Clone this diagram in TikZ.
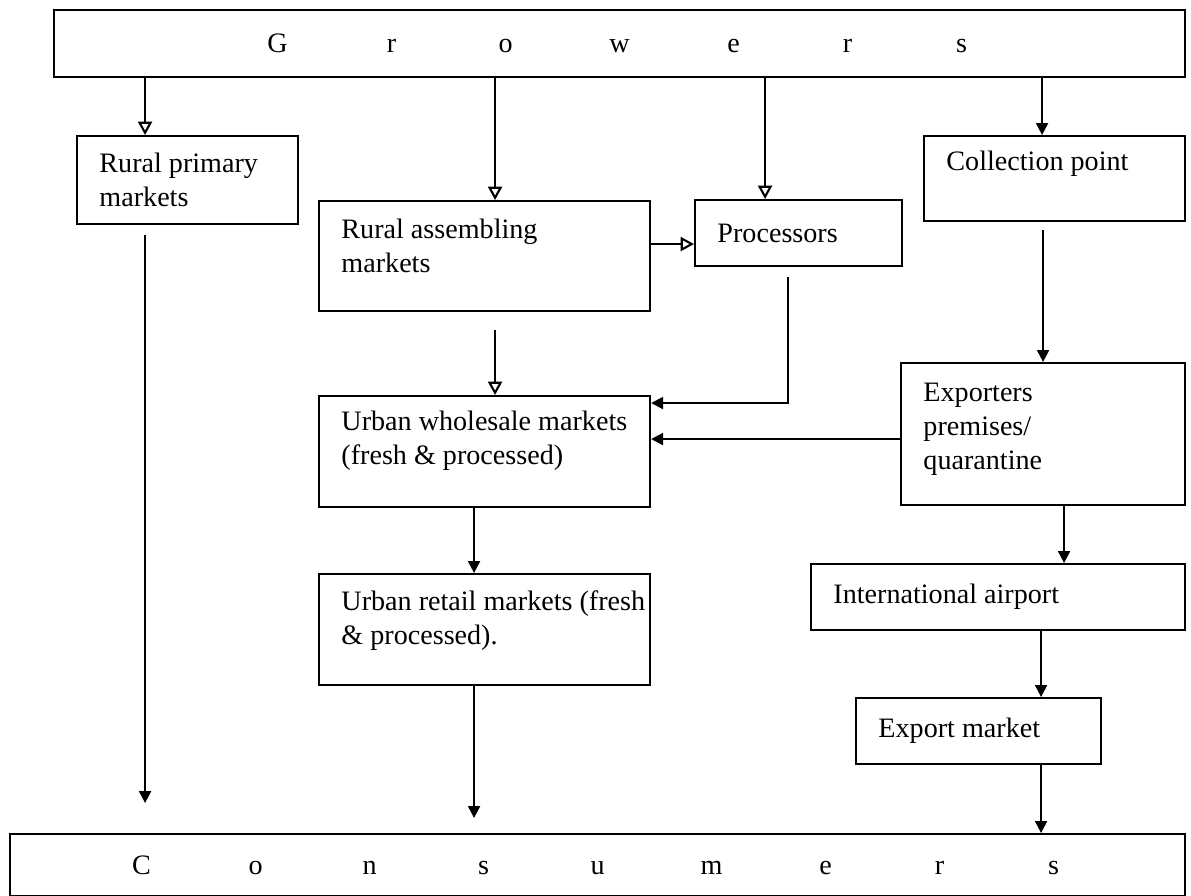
\documentclass[tikz,border=0pt]{standalone}
\usepackage{fontspec}
\setmainfont{Liberation Serif}
\usetikzlibrary{arrows.meta,calc}

\tikzset{
  box/.style 2 args={draw, line width=0.9pt, rectangle, inner sep=0pt,
    anchor=north west, minimum width=#1, minimum height=#2},
  lbl/.style={anchor=west, align=left, inner sep=0pt, xshift=0.345cm},
  oarr/.style={line width=0.9pt, -{Triangle[open,width=0.21cm,length=0.2cm]}},
  farr/.style={line width=0.9pt, -{Triangle[width=0.18cm,length=0.18cm]}},
}
% one spaced letter of the wide titles
\newcommand{\wide}[1]{\makebox[1.71cm]{#1}}

\begin{document}
\begin{tikzpicture}[x=0.015cm,y=-0.015cm,font=\fontsize{12}{14.5}\selectfont]
\useasboundingbox (0,0) rectangle (1191,896);

% boxes
\node[box={16.965cm}{1.005cm}] (growers) at (53,9)
  {\wide{G}\wide{r}\wide{o}\wide{w}\wide{e}\wide{r}\wide{s}};
\node[box={3.315cm}{1.32cm},
  label={[lbl]west:{Rural primary\\markets}}] (rpm) at (76,135) {};
\node[box={4.965cm}{1.65cm},
  label={[lbl,yshift=0.15cm]west:{Rural assembling\\markets}}] (ram) at (318,200) {};
\node[box={3.105cm}{0.99cm},
  label={[lbl]west:{Processors}}] (proc) at (694,199) {};
\node[box={3.915cm}{1.275cm},
  label={[lbl,yshift=0.225cm]west:{Collection point}}] (coll) at (923,135) {};
\node[box={4.965cm}{1.665cm},
  label={[lbl,yshift=0.16cm]west:{Urban wholesale markets\\(fresh \& processed)}}] (uwm) at (318,395) {};
\node[box={4.26cm}{2.13cm},
  label={[lbl,yshift=0.075cm]west:{Exporters\\premises/\\quarantine}}] (expq) at (900,362) {};
\node[box={4.965cm}{1.665cm},
  label={[lbl,yshift=0.135cm]west:{Urban retail markets (fresh\\\& processed).}}] (urm) at (318,573) {};
\node[box={5.61cm}{0.99cm},
  label={[lbl]west:{International airport}}] (air) at (810,563) {};
\node[box={3.675cm}{0.99cm},
  label={[lbl]west:{Export market}}] (emk) at (855,697) {};
\node[box={17.625cm}{0.93cm}] (cons) at (9,833)
  {\wide{C}\wide{o}\wide{n}\wide{s}\wide{u}\wide{m}\wide{e}\wide{r}\wide{s}};

% arrow positions
\coordinate (a1) at ($(rpm.north)+(-42.5,0)$);
\coordinate (a2) at ($(ram.north)+(10.5,0)$);
\coordinate (a3) at ($(proc.north)+(-33.5,0)$);
\coordinate (a4) at ($(coll.north)+(-12.5,0)$);
\coordinate (p1) at ($(proc.west)+(0,11)$);
\coordinate (p2) at ($(proc.south)+(-10.5,0)$);
\coordinate (w1) at ($(uwm.east)+(0,-48.5)$);
\coordinate (w2) at ($(uwm.east)+(0,-12.5)$);
\coordinate (e1) at ($(expq.south)+(21,0)$);
\coordinate (e2) at ($(air.south)+(43,0)$);
\coordinate (u1) at ($(uwm.south)+(-10.5,0)$);

% from growers
\draw[oarr] (a1 |- growers.south) -- (a1);
\draw[oarr] (a2 |- growers.south) -- (a2);
\draw[oarr] (a3 |- growers.south) -- (a3);
\draw[farr] (a4 |- growers.south) -- (a4);

% middle chain
\draw[oarr] (ram.east |- p1) -- (p1);
\draw[oarr,shorten <=0.27cm] (a2 |- ram.south) -- (a2 |- uwm.north);
\draw[farr,shorten <=0.15cm] (p2) -- (p2 |- w1) -- (w1);
\draw[farr] (expq.west |- w2) -- (w2);
\draw[farr] (u1) -- (u1 |- urm.north);

% export chain
\draw[farr,shorten <=0.12cm] (expq.north |- coll.south) -- (expq.north);
\draw[farr] (e1) -- (e1 |- air.north);
\draw[farr] (e2) -- (e2 |- emk.north);

% to consumers
\draw[farr,shorten <=0.15cm,shorten >=0.45cm] (a1 |- rpm.south) -- (a1 |- cons.north);
\draw[farr,shorten >=0.225cm] (u1 |- urm.south) -- (u1 |- cons.north);
\draw[farr] (e2 |- emk.south) -- (e2 |- cons.north);
\end{tikzpicture}
\end{document}
